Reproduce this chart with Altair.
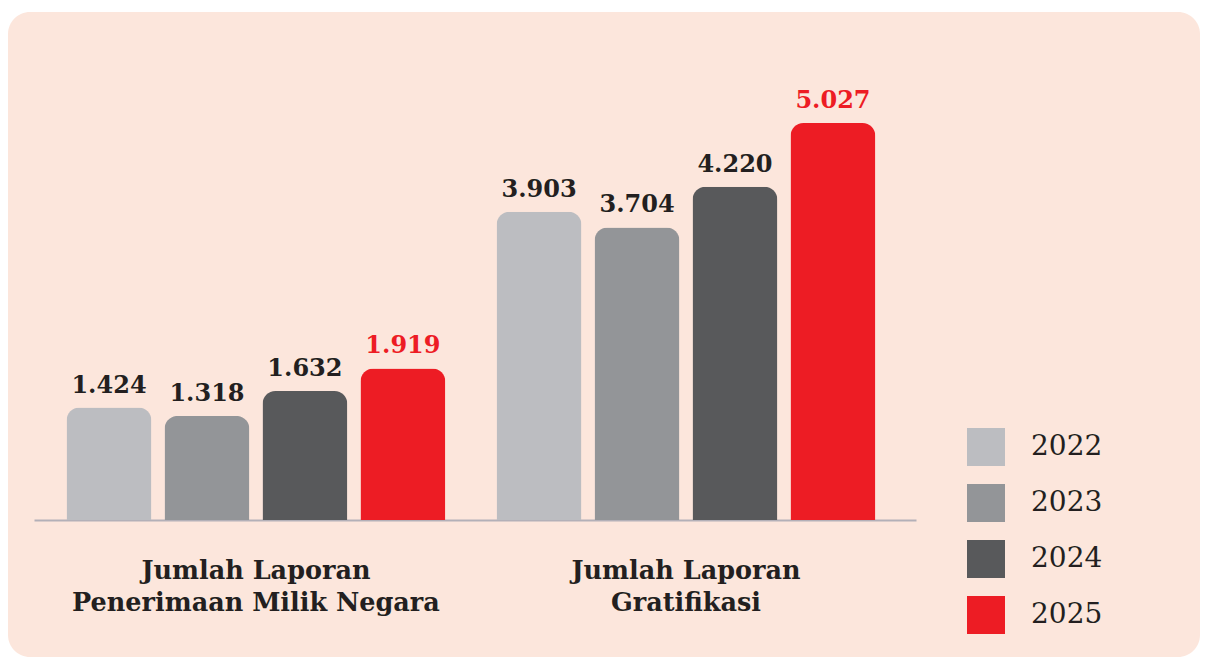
import altair as alt
import pandas as pd

groups = ["Jumlah Laporan\nPenerimaan Milik Negara", "Jumlah Laporan\nGratifikasi"]
years = ["2022", "2023", "2024", "2025"]
pmn_values = [1424, 1318, 1632, 1919]
grat_values = [3903, 3704, 4220, 5027]
colors = ["#BCBDC1", "#939598", "#58595B", "#ED1C24"]

rows = []
for g, vals in zip(groups, [pmn_values, grat_values]):
    for y, v in zip(years, vals):
        rows.append({"group": g, "year": y, "value": v,
                     "label": f"{v:,}".replace(",", ".")})
df = pd.DataFrame(rows)

FONT_SLAB = "DejaVu Serif"
TEXT_DARK = "#231F20"

x_enc = alt.X("group:N", sort=groups, title=None,
              scale=alt.Scale(range=[26, 908], paddingInner=0.119,
                              paddingOuter=0.085, align=0.445),
              axis=alt.Axis(labelExpr="split(datum.label, '\\n')",
                            labelFont=FONT_SLAB, labelFontSize=25.5,
                            labelFontWeight="bold", labelColor=TEXT_DARK,
                            labelLineHeight=32, labelPadding=38,
                            labelBaseline="top", labelAngle=0,
                            labelLimit=0, labelOverlap=False,
                            ticks=False, domainColor="#B3B0B8",
                            domainWidth=2, offset=-137, grid=False))
xo_enc = alt.XOffset("year:N", sort=years,
                     scale=alt.Scale(paddingInner=0.133, paddingOuter=0))
y_enc = alt.Y("value:Q", axis=None,
              scale=alt.Scale(range=[508, 111], zero=True, nice=False))

bars = alt.Chart(df).mark_bar(cornerRadiusTopLeft=13, cornerRadiusTopRight=13).encode(
    x=x_enc, xOffset=xo_enc, y=y_enc,
    color=alt.Color("year:N", sort=years,
                    scale=alt.Scale(domain=years, range=colors),
                    legend=alt.Legend(title=None, orient="none",
                                      legendX=959, legendY=416,
                                      direction="vertical", padding=0,
                                      symbolType="square", symbolSize=1444,
                                      symbolStrokeWidth=0, symbolOpacity=1,
                                      labelFont=FONT_SLAB, labelFontSize=28,
                                      labelColor=TEXT_DARK, labelOffset=26,
                                      rowPadding=18))
)

texts = alt.Chart(df).mark_text(baseline="alphabetic", dy=-15,
                                font=FONT_SLAB, fontSize=24,
                                fontWeight="bold").encode(
    x=x_enc, xOffset=xo_enc, y=y_enc, text="label:N",
    color=alt.condition(alt.datum.year == "2025", alt.value("#ED1C24"),
                        alt.value(TEXT_DARK))
)

chart = alt.layer(bars, texts).properties(
    width=1192, height=645,
    padding={"top": 4, "left": 0, "right": 0, "bottom": 0},
    autosize=alt.AutoSizeParams(type="none"),
    background="white"
).configure_view(fill="#FCE6DC", cornerRadius=22, strokeWidth=0)

chart.save("out.html", embed_options={"renderer": "svg", "actions": False})
